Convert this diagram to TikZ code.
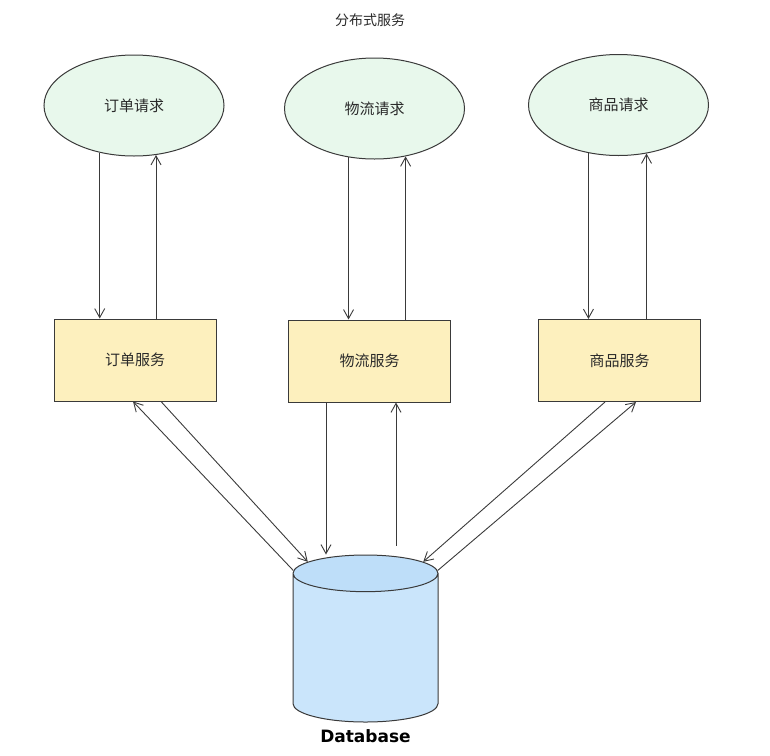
\documentclass[tikz,border=0pt]{standalone}
\usepackage{fontspec}
\setmainfont{Noto Sans CJK SC}
\newfontfamily\latinfont{DejaVu Sans}
\usepackage{xcolor}
\usetikzlibrary{shapes.geometric,arrows.meta,positioning}

\definecolor{reqgreen}{HTML}{E8F8EC}
\definecolor{svcyellow}{HTML}{FDF0BE}
\definecolor{dbblue}{HTML}{CAE5FB}
\definecolor{dbtop}{HTML}{BEDEF9}
\definecolor{linegray}{HTML}{3A3A3A}
\definecolor{textgray}{HTML}{2A2A2A}

\begin{document}
\begin{tikzpicture}[x=1pt, y=-1pt, node distance=5mm, font=\fontsize{15}{18}\selectfont, >={Straight Barb[length=9pt, width=10pt]}]
\tikzset{
  base/.style={draw=linegray, align=center, line width=1pt, text=textgray},
  request/.style={base, ellipse, fill=reqgreen, minimum width=180pt, minimum height=101pt, inner sep=0pt},
  service/.style={base, fill=svcyellow, minimum width=162pt, minimum height=82pt},
  store/.style={base, cylinder, shape border rotate=90, aspect=5.5, cylinder uses custom fill, cylinder body fill=dbblue, cylinder end fill=dbtop, minimum width=145pt, minimum height=167pt},
  arrow/.style={->, draw=linegray, line width=0.9pt},
}
\useasboundingbox (0,0) rectangle (770,755);

% Title
\node (title) [text=textgray, font=\fontsize{14}{16}\selectfont] at (370,20) {分布式服务};

% Requests
\node (oreq) [request] at (134,105.5) {订单请求};
\node (lreq) [request] at (374.5,108.5) {物流请求};
\node (preq) [request] at (618.5,105) {商品请求};

% Services
\node (osvc) [service, below=162pt of oreq, xshift=1pt] {订单服务};
\node (lsvc) [service, below=160pt of lreq, xshift=-5pt] {物流服务};
\node (psvc) [service, below=163pt of preq, xshift=1pt] {商品服务};

% Database
\node (db) [store, below=152pt of lsvc, xshift=-4pt] {};
\node (dblabel) [below=4pt of db, text=black, font=\latinfont\bfseries\fontsize{17}{20}\selectfont] {Database};

% Requests to services
\draw[arrow] (oreq.234) -- (oreq.234 |- osvc.north);
\draw[arrow] (oreq.294 |- osvc.north) -- (oreq.294);
\draw[arrow] (lreq.242) -- (lreq.242 |- lsvc.north);
\draw[arrow] (lreq.303 |- lsvc.north) -- (lreq.303);
\draw[arrow] (preq.238) -- (preq.238 |- psvc.north);
\draw[arrow] (preq.300 |- psvc.north) -- (preq.300);

% Services to database
\draw[arrow] (db.132) -- ([xshift=-2pt]osvc.south);
\draw[arrow] ([xshift=26pt]osvc.south) -- (db.123);
\draw[arrow] ([xshift=-43.5pt]lsvc.south) -- ([xshift=-43.5pt]lsvc.south |- db.north);
\draw[arrow, shorten <=9pt] ([xshift=26.5pt]lsvc.south |- db.north) -- ([xshift=26.5pt]lsvc.south);
\draw[arrow] ([xshift=-14.5pt]psvc.south) -- (db.57);
\draw[arrow] (db.48) -- ([xshift=16.5pt]psvc.south);

\end{tikzpicture}
\end{document}
